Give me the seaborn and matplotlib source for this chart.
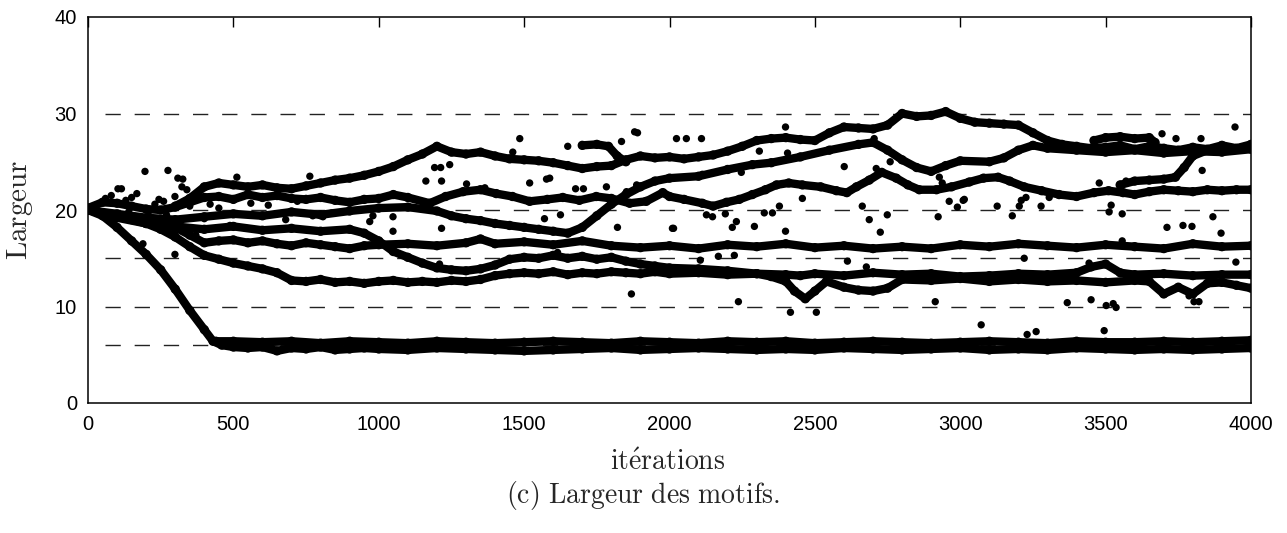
import matplotlib
matplotlib.use('Agg')
import numpy as np
import pandas as pd
import matplotlib.pyplot as plt
import seaborn as sns

sns.set_style('white')
plt.rcParams['font.family'] = ['Liberation Sans', 'DejaVu Sans']
plt.rcParams['mathtext.fontset'] = 'cm'

# valeurs (iterations, largeur)
bas_x = [0, 50, 100, 150, 200, 250, 300, 350, 400, 430, 460, 500, 550, 600, 650, 700, 750, 800, 850, 900,
         950, 1000, 1100, 1200, 1300, 1400, 1500, 1600, 1700, 1800, 1900, 2000, 2100, 2200, 2300, 2400, 2500,
         2600, 2700, 2800, 2900, 3000, 3100, 3200, 3300, 3400, 3500, 3600, 3700, 3800, 3900, 4000]
bas_y = [20.0, 19.4, 18.2, 16.8, 15.4, 13.8, 11.8, 9.6, 7.6, 6.4, 6.0, 5.8, 5.7, 5.8, 5.4, 5.7, 5.6, 5.8, 5.5, 5.6,
         5.7, 5.6, 5.5, 5.7, 5.6, 5.5, 5.4, 5.5, 5.6, 5.7, 5.5, 5.6, 5.7, 5.6, 5.5, 5.6, 5.5, 5.7, 5.6, 5.5,
         5.6, 5.7, 5.5, 5.6, 5.5, 5.7, 5.6, 5.5, 5.6, 5.5, 5.6, 5.7]

bas2_x = [440, 500, 600, 700, 800, 900, 1000, 1100, 1200, 1300, 1400, 1500, 1600, 1700, 1800, 1900, 2000,
          2100, 2200, 2300, 2400, 2500, 2600, 2700, 2800, 2900, 3000, 3100, 3200, 3300, 3400, 3500, 3600,
          3700, 3800, 3900, 4000]
bas2_y = [6.4, 6.4, 6.3, 6.4, 6.2, 6.4, 6.3, 6.2, 6.4, 6.3, 6.2, 6.3, 6.4, 6.3, 6.2, 6.4, 6.3, 6.2, 6.4,
          6.3, 6.4, 6.2, 6.3, 6.4, 6.3, 6.2, 6.3, 6.4, 6.3, 6.2, 6.4, 6.3, 6.3, 6.4, 6.3, 6.4, 6.5]

b_x = [0, 50, 100, 150, 200, 250, 300, 350, 400, 450, 500, 550, 600, 650, 700, 750, 800, 850, 900, 950, 1000,
       1050, 1100, 1150, 1200, 1250, 1300, 1350, 1400, 1450, 1500, 1550, 1600, 1650, 1700, 1750, 1800, 1850,
       1900, 1950, 2000, 2100, 2200, 2300, 2400, 2450, 2500, 2600, 2700, 2800, 2900, 3000, 3100, 3200, 3300,
       3400, 3450, 3500, 3550, 3600, 3700, 3800, 3900, 4000]
b_y = [20.0, 19.7, 19.4, 19.0, 18.6, 18.0, 17.2, 16.2, 15.3, 14.9, 14.5, 14.2, 13.9, 13.5, 12.7, 12.6, 12.8,
       12.5, 12.6, 12.4, 12.6, 12.7, 12.5, 12.6, 12.5, 12.7, 12.6, 12.8, 13.2, 13.4, 13.5, 13.4, 13.6, 13.3,
       13.5, 13.4, 13.6, 13.5, 13.4, 13.6, 13.4, 13.5, 13.3, 13.4, 13.3, 13.2, 13.4, 13.2, 13.5, 13.3, 13.4,
       13.1, 13.2, 13.4, 13.3, 13.5, 14.1, 14.4, 13.5, 13.3, 13.4, 13.2, 13.3, 13.3]

d_x = [0, 100, 200, 300, 400, 500, 600, 700, 800, 900, 950, 1000, 1050, 1100, 1150, 1200, 1250, 1300, 1350,
       1400, 1450, 1500, 1550, 1600, 1650, 1700, 1750, 1800, 1850, 1900, 1950, 2000, 2100, 2200, 2300, 2350,
       2400, 2430, 2467, 2500, 2540, 2600, 2650, 2700, 2750, 2800, 2900, 3000, 3100, 3200, 3300, 3400, 3500,
       3600, 3650, 3700, 3750, 3800, 3850, 3900, 3950, 4000]
d_y = [20.0, 19.2, 18.6, 18.3, 18.0, 18.3, 17.9, 18.1, 17.8, 18.0, 17.6, 16.8, 15.7, 15.1, 14.5, 14.0, 13.8,
       13.7, 13.9, 14.3, 14.9, 15.1, 15.0, 15.3, 15.0, 15.2, 14.9, 15.1, 14.7, 14.4, 14.2, 14.0, 13.9, 13.7,
       13.4, 13.1, 12.6, 11.6, 10.8, 11.6, 12.6, 12.0, 11.7, 11.6, 11.9, 12.8, 12.7, 12.9, 12.6, 12.8, 12.6,
       12.7, 12.5, 12.7, 12.6, 11.3, 12.0, 11.3, 12.4, 12.5, 12.2, 11.9]

c_x = [0, 100, 200, 300, 350, 400, 450, 500, 550, 600, 650, 700, 750, 800, 850, 900, 950, 1000, 1100, 1200,
       1300, 1350, 1400, 1500, 1600, 1700, 1800, 1900, 2000, 2100, 2200, 2300, 2400, 2500, 2600, 2700, 2800,
       2900, 3000, 3100, 3200, 3300, 3400, 3500, 3600, 3700, 3800, 3900, 4000]
c_y = [20.0, 19.4, 18.8, 18.2, 17.4, 16.6, 16.8, 16.9, 16.6, 16.8, 16.5, 16.3, 16.6, 16.4, 16.2, 16.0, 16.3,
       16.4, 16.5, 16.3, 16.6, 17.0, 16.5, 16.7, 16.4, 16.8, 16.3, 16.1, 16.3, 16.0, 16.4, 16.2, 16.5, 16.1,
       16.3, 16.0, 16.2, 16.0, 16.4, 16.2, 16.5, 16.3, 16.1, 16.4, 16.2, 16.0, 16.5, 16.2, 16.3]

m_x = [0, 100, 200, 300, 400, 500, 600, 700, 800, 900, 1000, 1100, 1200, 1250, 1300, 1350, 1400, 1450, 1500,
       1550, 1600, 1650, 1700, 1750, 1800, 1850, 1900, 1950, 2000, 2100, 2200, 2285, 2350, 2450, 2550, 2650,
       2700, 2750, 2800, 2850, 2900, 2950, 3000, 3100, 3150, 3200, 3250, 3300, 3400, 3500, 3600, 3700, 3800,
       3900, 4000]
m_y = [20.0, 19.6, 19.2, 19.0, 19.3, 19.6, 19.4, 19.8, 19.5, 19.9, 20.2, 20.3, 19.9, 19.4, 19.1, 18.9, 18.6,
       18.4, 18.2, 18.0, 17.8, 17.6, 18.2, 19.4, 20.6, 21.6, 22.4, 23.0, 23.3, 23.5, 24.2, 24.7, 24.9, 25.5,
       26.2, 26.8, 27.0, 26.2, 25.2, 24.4, 24.0, 24.6, 25.1, 25.0, 25.4, 26.2, 26.7, 26.4, 26.2, 26.0, 26.2,
       25.9, 26.1, 26.0, 26.3]

e_x = [300, 350, 400, 450, 500, 550, 600, 650, 700, 750, 800, 850, 900, 950, 1000, 1050, 1100, 1150, 1200,
       1250, 1300, 1350, 1400, 1450, 1500, 1550, 1600, 1650, 1700, 1750, 1800, 1850, 1900, 1950, 2000, 2050,
       2100, 2150, 2200, 2250, 2300, 2350, 2400, 2450, 2500, 2550, 2600, 2650, 2700, 2750, 2800, 2850, 2900,
       2950, 3000, 3050, 3100, 3150, 3200, 3250, 3300, 3350, 3400, 3450, 3500, 3550, 3600, 3650, 3700, 3750,
       3800, 3850, 3900, 3950, 4000]
e_y = [20.4, 21.2, 22.4, 22.8, 22.6, 22.4, 22.6, 22.3, 22.2, 22.5, 22.8, 23.1, 23.3, 23.6, 24.0, 24.5, 25.2,
       25.8, 26.6, 26.0, 25.8, 26.0, 25.6, 25.3, 25.2, 25.1, 24.9, 24.6, 24.3, 24.5, 24.6, 25.2, 25.6, 25.4,
       25.5, 25.3, 25.5, 25.7, 26.1, 26.6, 27.2, 27.4, 27.5, 27.3, 27.2, 28.0, 28.6, 28.5, 28.4, 28.8, 30.0,
       29.7, 29.8, 30.2, 29.5, 29.1, 29.0, 28.9, 28.8, 28.0, 27.2, 26.8, 26.6, 26.4, 26.5, 26.7, 26.3, 26.6,
       26.4, 26.2, 26.5, 26.3, 26.7, 26.4, 26.8]

k_x = [0, 50, 100, 150, 200, 250, 300, 350, 400, 450, 500, 550, 600, 650, 700, 750, 800, 850, 900, 950,
       1000, 1050, 1100, 1175, 1230, 1290, 1350, 1404, 1460, 1519, 1580, 1633, 1690, 1748, 1800, 1863, 1920,
       1977, 2000, 2050, 2113, 2150, 2196, 2240, 2285, 2330, 2368, 2410, 2457, 2520, 2574, 2610, 2643, 2687,
       2730, 2780, 2820, 2859, 2918, 2970, 3031, 3080, 3130, 3170, 3220, 3280, 3340, 3400, 3460, 3510, 3560,
       3600, 3650, 3700, 3750, 3800, 3850, 3900, 3950, 4000]
k_y = [20.2, 20.8, 20.7, 20.4, 20.1, 20.0, 20.3, 20.8, 21.3, 21.4, 21.1, 21.6, 21.3, 21.5, 21.2, 21.1, 21.3,
       21.0, 20.8, 21.1, 21.2, 21.6, 21.3, 20.7, 21.4, 21.9, 22.1, 21.7, 21.4, 20.9, 21.1, 21.3, 21.0, 21.4,
       21.2, 20.7, 20.9, 21.8, 21.4, 21.1, 20.7, 20.4, 20.8, 21.1, 21.6, 22.1, 22.6, 22.8, 22.6, 22.4, 22.0,
       21.8, 22.4, 23.1, 23.9, 23.3, 22.6, 22.1, 22.1, 22.4, 22.9, 23.3, 23.4, 23.0, 22.4, 22.0, 21.6, 21.4,
       21.8, 22.0, 21.8, 21.6, 21.9, 22.1, 22.0, 21.9, 22.1, 22.0, 22.1, 22.1]

g_x = [3550, 3600, 3650, 3700, 3740, 3770, 3800, 3850]
g_y = [22.6, 23.0, 23.1, 23.2, 23.4, 24.4, 25.6, 26.2]

s1_x = [1700, 1750, 1790, 1820, 1850]
s1_y = [26.7, 26.8, 26.6, 25.6, 25.0]

s2_x = [3460, 3500, 3550, 3600, 3650, 3670]
s2_y = [27.2, 27.5, 27.6, 27.4, 27.5, 27.0]

# points isoles
pts_x = [196, 275, 512, 763, 103, 115, 168, 244, 309, 326, 323, 340, 299, 344, 189, 371, 299, 299, 773, 808,
         838, 969, 980, 488, 1485, 1650, 1835, 1880, 1890, 2024, 1192, 1213, 1244, 1162, 1216, 1461, 1302, 1365,
         1519, 1577, 1588, 1677, 1704, 1783, 1852, 1887, 1049, 1049, 1216, 1570, 1625, 1821, 2010, 1209, 1615,
         1869, 2058, 2110, 2399, 2309, 2406, 2704, 2113, 2247, 2601, 2711, 2759, 2928, 2938, 2962, 2990, 3014,
         2127, 2148, 2192, 2216, 2230, 2292, 2326, 2354, 2378, 2457, 2014, 2399, 2663, 2687, 2749, 2725, 2924,
         2168, 2223, 2106, 2612, 2677, 2237, 2416, 2505, 2914, 3945, 3694, 3742, 3828, 3832, 3010, 3127, 3179,
         3210, 3226, 3203, 3278, 3306, 3478, 3570, 3519, 3512, 3557, 3711, 3766, 3797, 3869, 3897, 3557, 3948,
         3220, 3443, 3368, 3450, 3502, 3526, 3536, 3787, 3804, 3821, 3072, 3230, 3261, 3495,
         60, 80, 130, 150, 230, 260, 350, 380, 420, 140, 210, 270, 400, 450, 560, 620, 680, 720]
pts_y = [24.0, 24.1, 23.4, 23.5, 22.2, 22.2, 21.7, 21.1, 23.3, 23.2, 22.4, 22.1, 21.4, 21.1, 16.5, 17.4, 17.8,
         15.4, 19.4, 19.3, 19.7, 18.8, 19.4, 18.4, 27.4, 26.6, 27.1, 28.1, 28.0, 27.4, 24.4, 24.4, 24.7, 23.0,
         23.0, 26.0, 22.7, 22.3, 22.8, 23.2, 23.3, 22.2, 22.2, 22.4, 21.9, 22.6, 19.3, 17.8, 18.1, 19.1, 19.5,
         18.2, 18.1, 14.4, 15.6, 11.3, 27.4, 27.4, 28.6, 26.1, 25.9, 27.4, 23.7, 23.9, 24.5, 24.3, 25.0, 23.4,
         22.8, 20.9, 20.3, 21.1, 19.5, 19.3, 19.6, 18.2, 18.8, 18.3, 19.7, 19.7, 20.4, 21.2, 18.1, 17.8, 20.4,
         19.0, 19.5, 17.7, 19.3, 15.2, 15.3, 14.8, 14.7, 14.1, 10.5, 9.4, 9.4, 10.5, 28.6, 27.9, 27.4, 27.4,
         24.1, 21.0, 20.4, 19.4, 21.0, 21.3, 20.4, 20.4, 21.3, 22.8, 23.0, 20.5, 19.8, 19.6, 18.2, 18.4, 18.3,
         19.3, 17.6, 16.8, 14.6, 15.0, 14.5, 10.4, 10.7, 10.1, 10.3, 9.9, 11.1, 10.5, 10.5, 8.1, 7.1, 7.4, 7.5,
         21.2, 21.5, 21.0, 21.3, 20.6, 20.9, 20.4, 21.8, 20.6, 19.8, 19.9, 19.5, 19.1, 20.2, 20.7, 20.5, 19.0, 20.9]

niveaux = [6, 10, 15, 20, 30]

trajets = {'bas': (bas_x, bas_y), 'bas2': (bas2_x, bas2_y), 'b': (b_x, b_y), 'd': (d_x, d_y),
           'c': (c_x, c_y), 'm': (m_x, m_y), 'e': (e_x, e_y), 'k': (k_x, k_y), 'g': (g_x, g_y),
           's1': (s1_x, s1_y), 's2': (s2_x, s2_y)}
df = pd.concat([pd.DataFrame({'iteration': x, 'largeur': y, 'trajet': nom})
                for nom, (x, y) in trajets.items()], ignore_index=True)
df_pts = pd.DataFrame({'iteration': pts_x, 'largeur': pts_y})

fig = plt.figure(figsize=(12.87, 5.33), dpi=100)
ax = fig.add_axes([88/1287, 1 - 403/533, 1163/1287, 386/533])

# lignes pointillees horizontales
ax.hlines(niveaux, 58, 4000, colors='#222222', lw=1, linestyles=(0, (11, 10)), zorder=1)

sns.lineplot(data=df, x='iteration', y='largeur', units='trajet', estimator=None, sort=False,
             color='black', lw=6, ax=ax, legend=False, zorder=3)
for ln in ax.get_lines():
    ln.set_solid_capstyle('round')
    ln.set_solid_joinstyle('round')
sns.scatterplot(data=df, x='iteration', y='largeur', color='black', s=45, edgecolor='none',
                ax=ax, legend=False, zorder=4)
sns.scatterplot(data=df_pts, x='iteration', y='largeur', color='black', s=28, edgecolor='none',
                ax=ax, legend=False, zorder=4)

ax.set_xlim(0, 4000)
ax.set_ylim(0, 40)
ax.set_xticks(range(0, 4001, 500))
ax.set_yticks([0, 10, 20, 30, 40])
ax.tick_params(axis='x', direction='in', length=7, width=1, top=True, labelsize=14.5, pad=9, colors='black')
ax.tick_params(axis='y', length=0, labelsize=14.5, pad=8, colors='black')
for sp in ax.spines.values():
    sp.set_color('black')
    sp.set_linewidth(1.1)
ax.set_xlabel('')
ax.set_ylabel(r'$\mathrm{Largeur}$', fontsize=21, labelpad=14)
fig.text(668/1287, 1 - 463/533, r'$\mathrm{it\acute{e}rations}$', fontsize=20, ha='center', va='center')
fig.text(643/1287, 1 - 496/533, r'$\mathrm{(c)\ Largeur\ des\ motifs.}$', fontsize=20, ha='center', va='center')

fig.savefig('out.png', dpi=100)
